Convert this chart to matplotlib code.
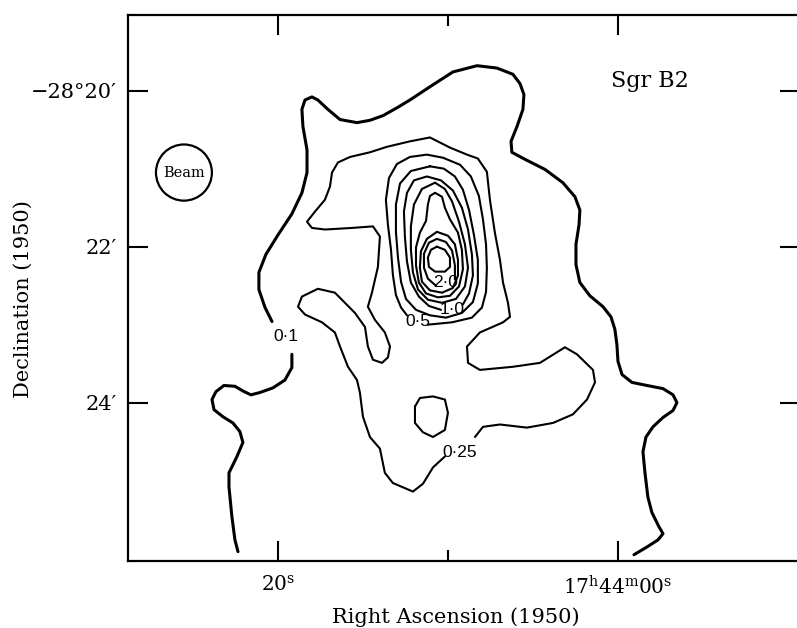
import matplotlib
matplotlib.use("Agg")
import matplotlib.pyplot as plt
from matplotlib.patches import Ellipse

# Sgr B2 continuum map. Coordinates: RA in seconds relative to 17h44m00s (1950),
# Dec in arcmin south of -28 deg (1950).

# 0.1 contour: western arm, from the label gap down to the lower edge
c010_west_ra = [19.18, 19.18, 19.59, 20.29, 21.06, 21.59, 22.06, 22.53, 23.18, 23.65, 23.88,
                23.76, 23.24, 22.65, 22.24, 22.06, 22.41, 22.88, 22.88, 22.71, 22.53, 22.35]
c010_west_dec = [23.38, 23.55, 23.71, 23.81, 23.87, 23.90, 23.85, 23.79, 23.78, 23.86, 23.96,
                 24.09, 24.18, 24.26, 24.37, 24.51, 24.69, 24.90, 25.08, 25.46, 25.76, 25.91]

# 0.1 contour: main arm, from the label gap over the top to the lower edge
c010_main_ra = [20.35, 20.76, 21.12, 21.12, 20.71, 20.00, 19.18, 18.59, 18.29, 18.29, 18.53,
                18.59, 18.41, 18.00, 17.65, 17.06, 16.35, 15.35, 14.59, 13.82, 13.00, 12.24,
                11.06, 9.71, 8.29, 7.12, 6.18, 5.76, 5.53, 5.59, 5.94, 6.29, 6.24, 5.47,
                4.29, 3.24, 2.53, 2.24, 2.29, 2.47, 2.47, 2.24, 1.65, 0.88, 0.41, 0.18,
                0.06, 0.00, -0.24, -0.82, -1.71, -2.65, -3.24, -3.47, -3.24, -2.65, -2.06,
                -1.65, -1.47, -1.59, -1.76, -2.00, -2.41, -2.65, -2.35, -1.71, -0.94]
c010_main_dec = [22.96, 22.78, 22.55, 22.33, 22.10, 21.85, 21.58, 21.31, 21.05, 20.76, 20.46,
                 20.24, 20.12, 20.08, 20.12, 20.24, 20.37, 20.41, 20.38, 20.32, 20.22, 20.12,
                 19.95, 19.76, 19.68, 19.71, 19.79, 19.91, 20.05, 20.24, 20.46, 20.65, 20.79,
                 20.88, 21.01, 21.18, 21.36, 21.53, 21.72, 21.97, 22.23, 22.46, 22.63, 22.77,
                 22.90, 23.06, 23.26, 23.47, 23.64, 23.74, 23.78, 23.82, 23.90, 24.00, 24.10,
                 24.19, 24.31, 24.44, 24.63, 24.90, 25.21, 25.41, 25.59, 25.68, 25.76, 25.85,
                 25.95]

# 0.25 contour, open at its label
c025_ra = [8.41, 7.94, 6.94, 5.35, 3.82, 2.65, 1.82, 1.35, 1.47, 2.41, 3.12, 4.59, 6.18,
           8.12, 8.82, 8.88, 8.12, 6.76, 6.35, 6.47, 6.76, 6.94, 7.24, 7.53, 7.71, 8.24,
           8.88, 9.88, 11.06, 12.24, 13.59, 14.59, 15.76, 16.47, 16.82, 16.94, 17.24, 17.82,
           18.29, 18.00, 17.24, 15.65, 14.41, 14.00, 14.06, 14.12, 14.47, 14.71, 14.29,
           13.71, 13.41, 13.53, 13.88, 14.41, 14.71, 14.88, 15.47, 16.06, 16.65, 17.65,
           18.59, 18.82, 18.41, 17.41, 16.65, 16.35, 15.88, 15.35, 15.18, 15.00, 14.59,
           14.00, 13.71, 13.24, 12.06, 11.47, 10.88, 10.18]
c025_dec = [24.44, 24.31, 24.28, 24.32, 24.26, 24.15, 23.96, 23.74, 23.58, 23.38, 23.29,
            23.49, 23.54, 23.58, 23.49, 23.28, 23.10, 22.97, 22.90, 22.72, 22.46, 22.17,
            21.82, 21.40, 21.04, 20.87, 20.82, 20.73, 20.60, 20.65, 20.72, 20.79, 20.85,
            20.92, 21.05, 21.23, 21.40, 21.55, 21.68, 21.76, 21.78, 21.76, 21.74, 21.87,
            22.06, 22.26, 22.59, 22.77, 22.94, 23.10, 23.28, 23.42, 23.49, 23.45, 23.28,
            23.03, 22.85, 22.72, 22.59, 22.54, 22.64, 22.77, 22.87, 22.97, 23.10, 23.28,
            23.54, 23.71, 23.87, 24.18, 24.44, 24.59, 24.90, 25.03, 25.14, 25.04, 24.83,
            24.69]

# small closed 0.25 island south of the peak
c025_island_ra = [11.94, 11.65, 10.88, 10.18, 10.00, 10.18, 10.88, 11.47, 11.94]
c025_island_dec = [24.05, 23.94, 23.92, 23.96, 24.13, 24.35, 24.44, 24.38, 24.26]

# nested rings around the main peak
ring050_ra = [11.18, 9.76, 8.59, 8.00, 7.76, 7.71, 7.76, 7.94, 8.18, 8.65, 9.29, 10.29,
              11.24, 12.24, 13.00, 13.47, 13.65, 13.53, 13.35, 13.24, 13.06, 12.76, 12.41]
ring050_dec = [23.00, 22.97, 22.91, 22.78, 22.58, 22.27, 21.97, 21.65, 21.35, 21.10, 20.95,
               20.86, 20.82, 20.85, 20.94, 21.12, 21.40, 21.72, 22.04, 22.36, 22.62, 22.78,
               22.88]

ring075_ra = [11.06, 10.24, 9.59, 9.12, 8.76, 8.47, 8.24, 8.24, 8.53, 9.18, 10.12, 11.06,
              11.88, 12.47, 12.76, 12.94, 13.06, 13.06, 12.82, 12.18]
ring075_dec = [20.97, 21.00, 21.10, 21.27, 21.53, 21.85, 22.17, 22.47, 22.71, 22.85, 22.91,
               22.88, 22.81, 22.67, 22.45, 22.14, 21.81, 21.46, 21.19, 21.03]

ring100_ra = [9.12, 8.76, 8.53, 8.59, 8.82, 9.18, 9.71, 10.41, 11.24, 12.00, 12.41, 12.59,
              12.53, 12.41, 12.18, 11.71, 11.12, 10.41]
ring100_dec = [22.74, 22.60, 22.37, 22.10, 21.78, 21.50, 21.28, 21.15, 21.10, 21.15, 21.31,
               21.55, 21.88, 22.19, 22.46, 22.64, 22.76, 22.81]

ring125_ra = [10.76, 10.18, 9.76, 9.35, 9.00, 8.82, 9.00, 9.53, 10.35, 11.18, 11.76, 12.06,
              12.18, 12.18, 12.00, 11.53]
ring125_dec = [21.18, 21.26, 21.42, 21.68, 21.97, 22.27, 22.51, 22.67, 22.72, 22.68, 22.55,
               22.33, 22.04, 21.74, 21.46, 21.26]

ring150_ra = [10.76, 10.35, 10.18, 9.88, 9.41, 9.18, 9.12, 9.35, 9.88, 10.59, 11.29, 11.71,
              11.88, 11.88, 11.65, 11.29, 11.18, 11.06]
ring150_dec = [21.31, 21.36, 21.50, 21.65, 21.82, 22.04, 22.29, 22.51, 22.63, 22.65, 22.60,
               22.46, 22.24, 22.01, 21.82, 21.67, 21.46, 21.35]

ring175_ra = [10.65, 10.00, 9.59, 9.41, 9.41, 9.71, 10.35, 11.06, 11.53, 11.65, 11.59, 11.24]
ring175_dec = [21.81, 21.86, 21.97, 22.17, 22.37, 22.53, 22.59, 22.56, 22.45, 22.27, 22.06,
               21.90]

ring200_ra = [9.59, 9.59, 9.76, 10.12, 10.65, 11.12, 11.41, 11.41, 11.18, 10.71]
ring200_dec = [22.42, 22.24, 22.05, 21.94, 21.90, 21.95, 22.09, 22.27, 22.41, 22.50]

ring225_ra = [10.65, 10.18, 9.88, 9.88, 10.18, 10.76, 11.12, 11.18, 11.00]
ring225_dec = [22.00, 22.04, 22.14, 22.26, 22.32, 22.32, 22.26, 22.14, 22.04]

# contour labels
label_text = ["0·1", "0·25", "0·5", "1·0", "2·0"]
label_ra = [19.53, 9.29, 11.76, 9.76, 10.12]
label_dec = [23.15, 24.64, 22.96, 22.81, 22.46]

# beam: circle centre and diameter
beam_ra, beam_dec = 25.53, 21.05
beam_w_s, beam_h_arcmin = 3.29, 0.72

plt.rcParams["font.family"] = ["DejaVu Serif"]
plt.rcParams["mathtext.fontset"] = "dejavuserif"

fig = plt.figure(figsize=(7.97, 6.28), dpi=100)
ax = fig.add_axes([0.1606, 0.1067, 0.8432, 0.8694])


def draw(ra, dec, lw=1.5, closed=False):
    ra, dec = list(ra), list(dec)
    if closed:
        ra.append(ra[0])
        dec.append(dec[0])
    ax.plot(ra, dec, color="black", lw=lw,
            solid_joinstyle="round", solid_capstyle="round")


draw(c010_west_ra, c010_west_dec, lw=2.2)
draw(c010_main_ra, c010_main_dec, lw=2.2)
draw(c025_ra, c025_dec)
draw(c025_island_ra, c025_island_dec, closed=True)
draw(ring050_ra, ring050_dec)
draw(ring075_ra, ring075_dec, closed=True)
draw(ring100_ra, ring100_dec)
draw(ring125_ra, ring125_dec, closed=True)
draw(ring150_ra, ring150_dec, closed=True)
draw(ring175_ra, ring175_dec, closed=True)
draw(ring200_ra, ring200_dec)
draw(ring225_ra, ring225_dec, closed=True)

for txt, x, y in zip(label_text, label_ra, label_dec):
    ax.text(x, y, txt, ha="center", va="center", fontsize=12.5,
            family=["Liberation Sans Narrow", "Liberation Sans"])

ax.add_patch(Ellipse((beam_ra, beam_dec), beam_w_s, beam_h_arcmin,
                     fill=False, lw=1.6, color="black"))
ax.text(beam_ra, beam_dec, "Beam", ha="center", va="center", fontsize=10.5)
ax.text(-1.9, 19.88, "Sgr B2", ha="center", va="center", fontsize=16)

ax.set_xlim(28.82, -10.71)
ax.set_ylim(26.03, 19.03)

ax.set_xticks([20, 0])
ax.set_xticklabels([r"$20^{\rm s}$", r"$17^{\rm h}44^{\rm m}00^{\rm s}$"])
ax.set_xticks([10], minor=True)
ax.set_yticks([20, 22, 24])
ax.set_yticklabels(["−28°20′", "22′", "24′"])

ax.tick_params(which="both", direction="in", top=True, right=True, width=1.5,
               color="black")
ax.tick_params(axis="x", labelsize=14.5)
ax.tick_params(axis="y", labelsize=15)
ax.tick_params(which="major", length=14.5)
ax.tick_params(axis="x", which="major", pad=10)
ax.tick_params(axis="y", which="major", pad=8)
ax.tick_params(which="minor", length=8)
for s in ax.spines.values():
    s.set_linewidth(1.6)

ax.set_xlabel("Right Ascension (1950)", fontsize=15, va="center")
ax.xaxis.set_label_coords(0.488, -0.1026)
ax.set_ylabel("Declination (1950)", fontsize=15, va="center")
ax.yaxis.set_label_coords(-0.156, 0.48)

fig.savefig("out.png", dpi=100)
